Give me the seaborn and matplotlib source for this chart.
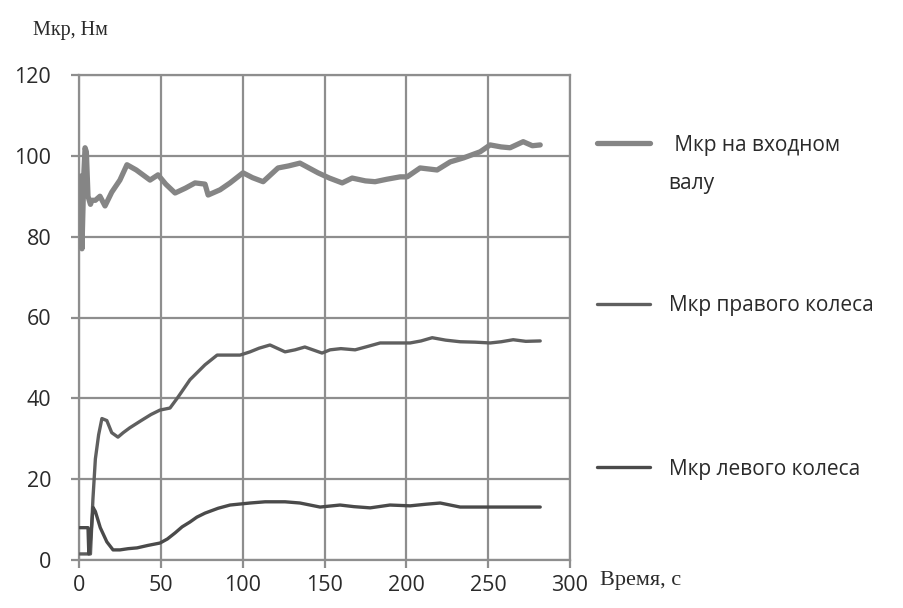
import matplotlib
matplotlib.use("Agg")
import matplotlib.pyplot as plt
from matplotlib.lines import Line2D
import seaborn as sns
import pandas as pd

# ---- data ----
t_input = [1, 1.8, 3, 3.7, 4.5, 5.5, 7, 7.9, 10, 12.8, 15.9, 20, 25, 29.3, 35, 43.4, 48.3, 53,
           58.7, 65, 70.9, 77, 78.9, 86.2, 92.3, 100.2, 106, 112.5, 121.6, 128, 135, 146,
           153, 160.8, 166.9, 175, 180.9, 188, 196.2, 200.5, 208.4, 218.8, 226.8, 235,
           245.1, 251.2, 258, 263.4, 271.4, 277, 281.8]
m_input = [95, 77, 96, 102, 101, 90, 88, 89, 89, 90, 87.6, 91, 94, 97.8, 96.5, 94, 95.3, 93,
           90.8, 92, 93.3, 93, 90.3, 91.6, 93.3, 95.8, 94.6, 93.6, 97, 97.5, 98.2, 95.8,
           94.5, 93.3, 94.5, 93.8, 93.6, 94.2, 94.8, 94.8, 97, 96.5, 98.5, 99.5,
           101, 102.7, 102.2, 102, 103.5, 102.5, 102.7]

t_right = [0.5, 7, 8.5, 10, 12, 14, 17, 20, 23.8, 27, 31, 38, 44, 49.5, 55.6, 60.5, 67.8, 77,
           84.4, 98.4, 104.5, 110, 116.7, 125.9, 132, 138, 148.5, 153.4, 160, 168.7, 176,
           184, 196.2, 202.3, 209, 215.8, 224, 232.9, 242, 251.2, 258, 265.3, 273, 281.8]
m_right = [1.5, 1.5, 15, 25, 31, 35, 34.5, 31.5, 30.4, 31.5, 32.7, 34.5, 36, 37.1, 37.6, 40.3, 44.6, 48.3,
           50.7, 50.7, 51.5, 52.4, 53.2, 51.5, 52, 52.7, 51.2, 52, 52.3, 52, 52.8,
           53.7, 53.7, 53.7, 54.2, 55, 54.4, 54, 53.9, 53.7, 54, 54.5, 54.1, 54.2]

t_left = [0.5, 5.5, 6, 7, 8.6, 10, 13, 17, 20.8, 25, 30, 35.5, 42, 49.5, 54, 58.7, 63, 67.8,
          72, 77, 85, 92.3, 104.5, 113.7, 125.9, 135, 147.3, 159.5, 168, 177.9, 190, 202.3,
          212, 220.7, 232.9, 251.2, 265, 281.8]
m_left = [8, 8, 1.5, 5, 13, 12, 8, 4.5, 2.5, 2.5, 2.8, 3, 3.6, 4.2, 5.2, 6.7, 8.2, 9.4,
          10.6, 11.6, 12.8, 13.6, 14.1, 14.4, 14.4, 14.1, 13.1, 13.6, 13.2, 12.9, 13.6, 13.4,
          13.8, 14.1, 13.1, 13.1, 13.1, 13.1]

series_labels = [" Мкр на входном", "Мкр правого колеса", "Мкр левого колеса"]
x_ticks = [0, 50, 100, 150, 200, 250, 300]
y_ticks = [0, 20, 40, 60, 80, 100, 120]

colors = ["#858585", "#5f5f5f", "#4a4a4a"]
widths = [3.8, 2.4, 2.4]

sns.set_theme(style="white")
plt.rcParams["font.family"] = ["Open Sans", "DejaVu Sans"]

fig = plt.figure(figsize=(9.04, 6.08), dpi=100)
ax = fig.add_axes([79 / 904, 1 - 560 / 608, (570 - 79) / 904, (560 - 75) / 608])

frames = [
    pd.DataFrame({"t": t_input, "m": m_input}),
    pd.DataFrame({"t": t_right, "m": m_right}),
    pd.DataFrame({"t": t_left, "m": m_left}),
]
for df, c, w in zip(frames, colors, widths):
    sns.lineplot(data=df, x="t", y="m", ax=ax, sort=False, estimator=None,
                 color=c, linewidth=w, zorder=3)

grid_c = "#8e8e8e"
txt_c = "#2a2a2a"
ax.set_xlim(0, 300)
ax.set_ylim(0, 120)
ax.set_xticks(x_ticks)
ax.set_yticks(y_ticks)
ax.set_xticklabels([str(v) for v in x_ticks])
ax.set_yticklabels([str(v) for v in y_ticks])
ax.grid(True, color=grid_c, linewidth=1.6)
ax.set_axisbelow(True)
for s in ax.spines.values():
    s.set_color(grid_c)
    s.set_linewidth(1.6)
ax.tick_params(axis="both", direction="out", length=6, width=1.6, color=grid_c,
               labelsize=15.5, labelcolor=txt_c)
ax.tick_params(axis="x", bottom=True, pad=5)
ax.tick_params(axis="y", left=True, pad=14)
ax.set_xlabel("")
ax.set_ylabel("")

# axis titles
fig.text(33 / 904, 1 - 30 / 608, "Мкр, Нм", family=["Liberation Serif", "DejaVu Serif"],
         fontsize=14.5, color=txt_c, va="center", ha="left")
fig.text(600 / 904, 1 - 580 / 608, "Время, с", family=["Liberation Serif", "DejaVu Serif"],
         fontsize=16, color=txt_c, va="center", ha="left")

# legend
leg_y = [143, 304, 467]
for y, c, w, lab in zip(leg_y, colors, widths, series_labels):
    fig.add_artist(Line2D([597 / 904, 650 / 904], [1 - y / 608, 1 - y / 608],
                          color=c, linewidth=w, transform=fig.transFigure))
    fig.text(669 / 904, 1 - (y + 2) / 608, lab, fontsize=15, color=txt_c,
             va="center", ha="left")
fig.text(668 / 904, 1 - 183 / 608, "валу", fontsize=15, color=txt_c,
         va="center", ha="left")

fig.savefig("out.png", dpi=100, facecolor="white")
